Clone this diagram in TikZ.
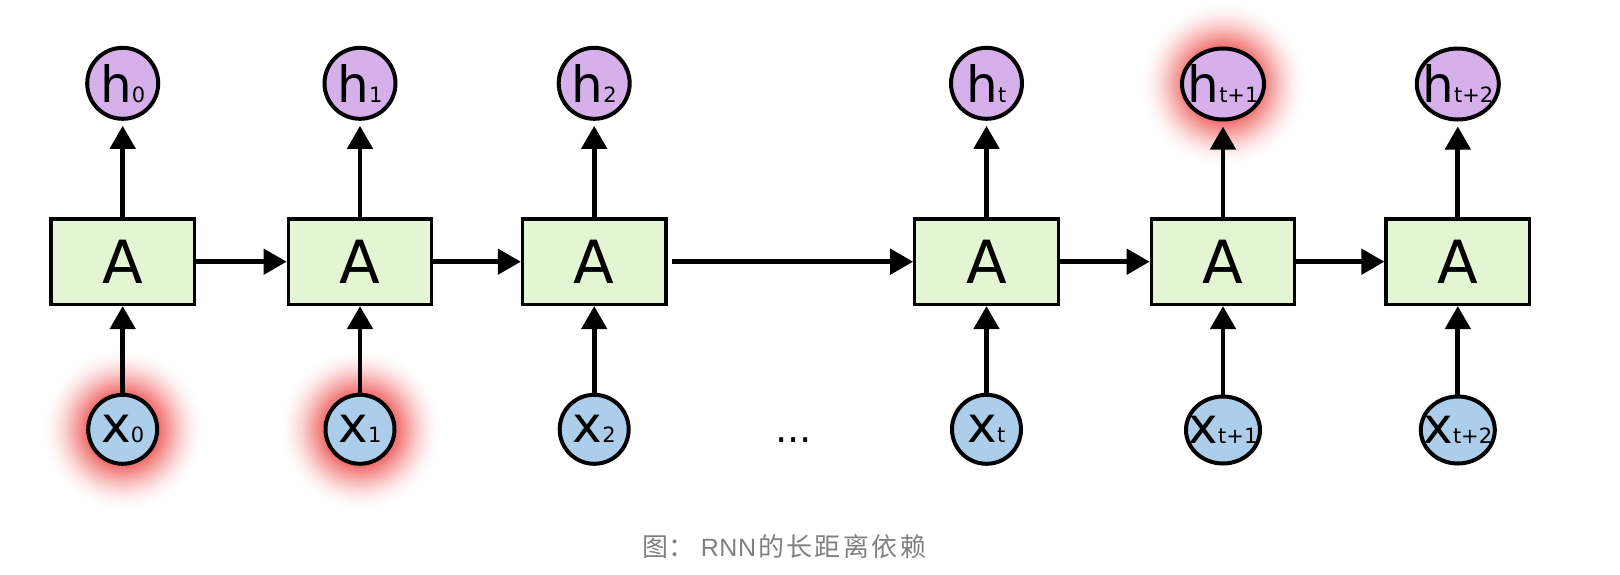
\documentclass[tikz,border=0pt]{standalone}
\usepackage{fontspec}
\setmainfont{DejaVu Sans}
\newfontfamily\cjkfont{Noto Sans CJK SC}
\newfontfamily\latfont{Liberation Sans}
\usetikzlibrary{arrows.meta,shapes.geometric}
\definecolor{hfill}{RGB}{214,176,234}
\definecolor{xfill}{RGB}{172,206,235}
\definecolor{afill}{RGB}{228,245,212}
\definecolor{glowred}{RGB}{236,52,52}
\definecolor{capgray}{RGB}{128,128,128}
\pgfdeclarelayer{background}
\pgfsetlayers{background,main}
\pgfdeclareradialshading{redglow}{\pgfpointorigin}{color(0bp)=(glowred!70!white); color(11.5bp)=(glowred!70!white); color(13.5bp)=(glowred!55!white); color(16bp)=(glowred!37!white); color(18.5bp)=(glowred!21!white); color(21bp)=(glowred!9!white); color(23.5bp)=(glowred!2!white); color(25bp)=(white); color(50bp)=(white)}
\newcommand{\circlab}[2]{\makebox[0pt][c]{\fontsize{50}{50}\selectfont #1\fontsize{21}{21}\selectfont #2}}
\tikzset{
  cell/.style={draw=black, line width=3.3pt, fill=afill, minimum width=143.4pt, minimum height=85.4pt, inner sep=0pt, font=\fontsize{59.5}{60}\selectfont},
  hnode/.style={circle, draw=black, line width=4pt, fill=hfill, minimum size=71pt, inner sep=0pt},
  xnode/.style={circle, draw=black, line width=4pt, fill=xfill, minimum size=69pt, inner sep=0pt},
  hwide/.style={ellipse, draw=black, line width=4pt, fill=hfill, minimum width=82pt, minimum height=71pt, inner sep=0pt},
  xwide/.style={ellipse, draw=black, line width=4pt, fill=xfill, minimum width=74pt, minimum height=67pt, inner sep=0pt},
  flow/.style={line width=4.7pt, -{Triangle[length=23pt,width=25pt]}},
  glow/.style={shading=redglow}
}
\begin{document}
\begin{tikzpicture}[x=1pt,y=-1pt]
\useasboundingbox (0,0) rectangle (1620,574);
% cells
\node[cell] (A0) at (122.7,261.7) {A};
\node[cell] (A1) at (360,261.7) {A};
\node[cell] (A2) at (594.2,261.7) {A};
\node[cell] (A3) at (986.5,261.7) {A};
\node[cell] (A4) at (1223,261.7) {A};
\node[cell] (A5) at (1457.8,261.7) {A};
% outputs
\node[hnode] (h0) at (122.7,83.3) {\circlab{h}{0}};
\node[hnode] (h1) at (360,83.3) {\circlab{h}{1}};
\node[hnode] (h2) at (594.2,83.3) {\circlab{h}{2}};
\node[hnode] (h3) at (986.5,83.3) {\circlab{h}{t}};
\node[hwide] (h4) at (1223,84) {\circlab{h}{t+1}};
\node[hwide] (h5) at (1457.8,84) {\circlab{h}{t+2}};
% inputs
\node[xnode] (x0) at (122.7,429.3) {\circlab{x}{0}};
\node[xnode] (x1) at (360,429.3) {\circlab{x}{1}};
\node[xnode] (x2) at (594.2,429.3) {\circlab{x}{2}};
\node[xnode] (x3) at (986.5,429.3) {\circlab{x}{t}};
\node[xwide] (x4) at (1223,430) {\circlab{x}{t+1}};
\node[xwide] (x5) at (1457.8,430) {\circlab{x}{t+2}};
% dots
\node[anchor=base, inner sep=0pt, font=\fontsize{38.7}{40}\selectfont] (dots) at (793.7,442.3) {...};
% glows
\begin{pgfonlayer}{background}
\shade[glow] (x0.center) circle (80pt);
\shade[glow] (x1.center) circle (80pt);
\shade[glow] (h4.center) circle (82pt);
\end{pgfonlayer}
% connectors
\foreach \i in {0,...,5} {
  \draw[flow] (x\i) -- (A\i);
  \draw[flow, shorten >=5pt] (A\i) -- (h\i);
}
\draw[flow] (A0) -- (A1);
\draw[flow] (A1) -- (A2);
\draw[flow, shorten <=4pt] (A2) -- (A3);
\draw[flow] (A3) -- (A4);
\draw[flow] (A4) -- (A5);
% caption
\node[anchor=base, inner sep=0pt, text=capgray, font=\fontsize{26}{28}\selectfont] (cap) at (784.5,556)
  {\cjkfont 图：\hspace{6pt}{\latfont\fontsize{25}{28}\selectfont R\kern0.5pt N\kern0.5pt N}\kern2pt 的\kern2.4pt 长\kern2.4pt 距\kern2.4pt 离\kern2.4pt 依\kern2.4pt 赖};
\end{tikzpicture}
\end{document}
